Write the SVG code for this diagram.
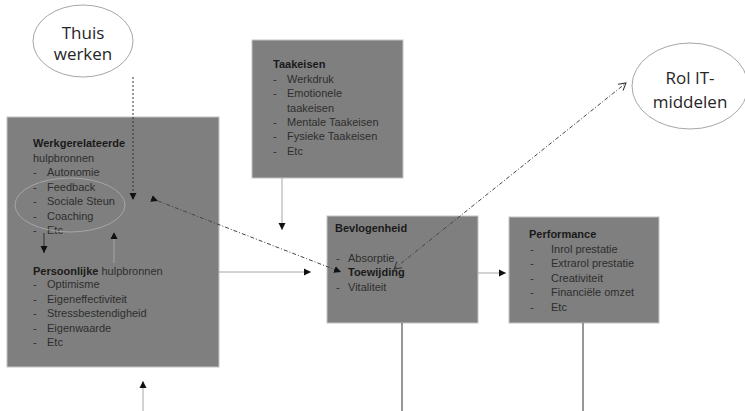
<svg xmlns="http://www.w3.org/2000/svg" width="745" height="411" viewBox="0 0 745 411">
<style>
.box{fill:#7f7f7f;stroke:#c4c4c4;stroke-width:1}
text{font-family:"Liberation Sans",Arial,sans-serif;font-size:11px;fill:#2e2e2e}
.h{font-weight:bold;fill:#1a1a1a}
.ell{fill:#fff;stroke:#a6a6a6;stroke-width:1}
.big{font-family:"Open Sans","Liberation Sans",sans-serif;font-size:17px;fill:#262626}
.ln{stroke:#303030;stroke-width:1;fill:none}
.lg{stroke:#a6a6a6;stroke-width:1;fill:none}
.dot{stroke:#333;stroke-width:1;stroke-dasharray:2,2;fill:none}
.dd{stroke:#444;stroke-width:1;stroke-dasharray:4,2,1,2;fill:none}
</style>
<defs>
<marker id="a" markerWidth="8" markerHeight="8" refX="7" refY="4" orient="auto" markerUnits="userSpaceOnUse">
<path d="M0,0.5 L7,4 L0,7.5 Z" fill="#111"/>
</marker>
<marker id="o" markerWidth="10" markerHeight="10" refX="8" refY="5" orient="auto-start-reverse" markerUnits="userSpaceOnUse">
<path d="M1,1 L8,5 L1,9" fill="none" stroke="#333" stroke-width="1"/>
</marker>
</defs>

<g id="thuis">
<ellipse class="ell" cx="83" cy="41" rx="50" ry="36"/>
<text class="big" x="83" y="39" text-anchor="middle">Thuis</text>
<text class="big" x="83" y="60" text-anchor="middle">werken</text>
</g>

<g id="rolit">
<ellipse class="ell" cx="690" cy="86" rx="58" ry="43"/>
<text class="big" x="690" y="84" text-anchor="middle">Rol IT-</text>
<text class="big" x="690" y="108" text-anchor="middle">middelen</text>
</g>

<g id="hulpbronnen">
<rect class="box" x="7" y="117" width="212" height="250"/>
<text class="h" x="33" y="147">Werkgerelateerde</text>
<text x="33" y="162">hulpbronnen</text>
<text x="33" y="176">-</text><text x="47" y="176">Autonomie</text>
<text x="33" y="191">-</text><text x="47" y="191">Feedback</text>
<text x="33" y="205">-</text><text x="47" y="205">Sociale Steun</text>
<text x="33" y="220">-</text><text x="47" y="220">Coaching</text>
<text x="33" y="234">-</text><text x="47" y="234">Etc</text>
<ellipse cx="70" cy="205" rx="55" ry="27" fill="none" stroke="#a6a6a6" stroke-width="1"/>
<text x="33" y="275"><tspan class="h">Persoonlijke</tspan> hulpbronnen</text>
<text x="33" y="288">-</text><text x="47" y="288">Optimisme</text>
<text x="33" y="303">-</text><text x="47" y="303">Eigeneffectiviteit</text>
<text x="33" y="317">-</text><text x="47" y="317">Stressbestendigheid</text>
<text x="33" y="332">-</text><text x="47" y="332">Eigenwaarde</text>
<text x="33" y="346">-</text><text x="47" y="346">Etc</text>
</g>

<g id="taakeisen">
<rect class="box" x="252" y="40" width="151" height="138"/>
<text class="h" x="273" y="68">Taakeisen</text>
<text x="273" y="83">-</text><text x="287" y="83">Werkdruk</text>
<text x="273" y="97">-</text><text x="287" y="97">Emotionele</text>
<text x="287" y="112">taakeisen</text>
<text x="273" y="126">-</text><text x="287" y="126">Mentale Taakeisen</text>
<text x="273" y="140">-</text><text x="287" y="140">Fysieke Taakeisen</text>
<text x="273" y="155">-</text><text x="287" y="155">Etc</text>
</g>

<g id="bevlogenheid">
<rect class="box" x="327" y="216" width="151" height="107"/>
<text class="h" x="335" y="232">Bevlogenheid</text>
<text x="336" y="262">-</text><text x="348" y="262">Absorptie</text>
<text class="h" x="348" y="276">Toewijding</text>
<text x="336" y="291">-</text><text x="348" y="291">Vitaliteit</text>
</g>

<g id="performance">
<rect class="box" x="509" y="217" width="150" height="106"/>
<text class="h" x="529" y="238">Performance</text>
<text x="530" y="253">-</text><text x="551" y="253">Inrol prestatie</text>
<text x="530" y="267">-</text><text x="551" y="267">Extrarol prestatie</text>
<text x="530" y="282">-</text><text x="551" y="282">Creativiteit</text>
<text x="530" y="296">-</text><text x="551" y="296">Financiële omzet</text>
<text x="530" y="311">-</text><text x="551" y="311">Etc</text>
</g>

<g id="connectors">
<line class="ln" x1="44" y1="233" x2="44" y2="253" marker-end="url(#a)"/>
<line class="lg" x1="114" y1="263" x2="114" y2="232" marker-end="url(#a)"/>
<line class="dot" x1="133" y1="77" x2="133" y2="200" marker-end="url(#a)"/>
<line class="lg" x1="282" y1="178" x2="282" y2="230" marker-end="url(#a)"/>
<line class="lg" x1="219" y1="272" x2="311" y2="272" marker-end="url(#a)"/>
<line class="lg" x1="478" y1="273" x2="506" y2="273" marker-end="url(#a)"/>
<line class="dd" x1="158" y1="201" x2="341" y2="272" marker-start="url(#a)" marker-end="url(#a)"/>
<line class="dd" x1="394" y1="269" x2="626" y2="83" marker-start="url(#o)" marker-end="url(#o)"/>
<line class="lg" x1="143" y1="411" x2="143" y2="381" marker-end="url(#a)"/>
<line class="ln" x1="402" y1="323" x2="402" y2="411"/>
<line class="ln" x1="583" y1="323" x2="583" y2="411"/>
</g>
</svg>
